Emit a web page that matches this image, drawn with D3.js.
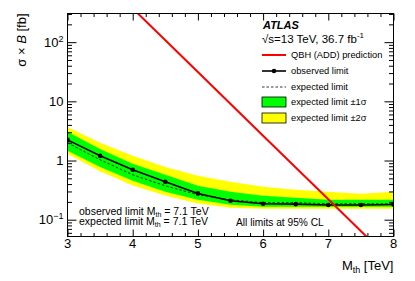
<!DOCTYPE html>
<html>
<head>
<meta charset="utf-8">
<script src="https://cdn.jsdelivr.net/npm/d3@7"></script>
<style>
  body { margin: 0; background: #fff; }
  text { font-family: "Liberation Sans", Arial, Helvetica, sans-serif; fill: #000; }
</style>
</head>
<body>
<div id="chart"></div>
<script>
// threshold mass points [TeV]
var masses = [3, 3.5, 4, 4.5, 5, 5.5, 6, 6.5, 7, 7.5, 8];
// cross-section x B limits [fb]
var observed = [2.23, 1.20, 0.70, 0.437, 0.278, 0.209, 0.186, 0.183, 0.177, 0.177, 0.181];
var expected = [1.99, 1.03, 0.574, 0.374, 0.264, 0.217, 0.194, 0.194, 0.186, 0.186, 0.186];
var exp1Up = [3.05, 1.57, 0.88, 0.574, 0.374, 0.296, 0.254, 0.235, 0.217, 0.217, 0.217];
var exp1Dn = [1.46, 0.78, 0.455, 0.296, 0.217, 0.179, 0.166, 0.166, 0.166, 0.166, 0.166];
var exp2Up = [3.70, 1.99, 1.20, 0.78, 0.552, 0.437, 0.36, 0.321, 0.296, 0.274, 0.296];
var exp2Dn = [1.30, 0.66, 0.38, 0.256, 0.188, 0.159, 0.153, 0.153, 0.153, 0.153, 0.153];
// QBH (ADD) prediction
var qbhMasses = [4, 5, 6, 7, 8];
var qbhXsec = [372, 31.3, 2.63, 0.221, 0.0186];

var xTicks = [3, 4, 5, 6, 7, 8];
var yTicks = [0.1, 1, 10, 100];
var yTickLabels = [["10", "\u22121"], ["1", ""], ["10", ""], ["10", "2"]];

var legendLabels = ["QBH (ADD) prediction", "observed limit", "expected limit",
  "expected limit \u00b11\u03c3", "expected limit \u00b12\u03c3"];

var plot = {
  width: 415,
  height: 281,
  top: 13.5,
  right: 21.5,
  bottom: 44.5,
  left: 67.5,
}

var svg = d3.select("#chart")
  .append("svg")
  .attr("width", plot.width)
  .attr("height", plot.height);

var x = d3.scaleLinear()
  .domain([3, 8])
  .range([plot.left, plot.width - plot.right]);

var y = d3.scaleLog()
  .domain([0.052, 305])
  .range([plot.height - plot.bottom, plot.top]);

svg.append("clipPath")
  .attr("id", "clip")
  .append("rect")
  .attr("x", plot.left)
  .attr("y", plot.top)
  .attr("width", plot.width - plot.left - plot.right)
  .attr("height", plot.height - plot.top - plot.bottom);

var rows = masses.map((m, i) => ({
  m: m, obs: observed[i], exp: expected[i],
  u1: exp1Up[i], d1: exp1Dn[i], u2: exp2Up[i], d2: exp2Dn[i]
}));

var g = svg.append("g").attr("clip-path", "url(#clip)");

/* bands */
g.append("path")
  .datum(rows)
  .attr("d", d3.area().x((d) => x(d.m)).y0((d) => y(d.d2)).y1((d) => y(d.u2)))
  .style("fill", "#ffff00");
g.append("path")
  .datum(rows)
  .attr("d", d3.area().x((d) => x(d.m)).y0((d) => y(d.d1)).y1((d) => y(d.u1)))
  .style("fill", "#00ff00");

/* expected */
g.append("path")
  .datum(rows)
  .attr("d", d3.line().x((d) => x(d.m)).y((d) => y(d.exp)))
  .style("fill", "none")
  .style("stroke", "#000")
  .style("stroke-width", 0.8)
  .style("stroke-dasharray", "2.5,2");

/* observed */
g.append("path")
  .datum(rows)
  .attr("d", d3.line().x((d) => x(d.m)).y((d) => y(d.obs)))
  .style("fill", "none")
  .style("stroke", "#000")
  .style("stroke-width", 1.6);
g.selectAll("circle.obs")
  .data(rows)
  .enter()
  .append("circle")
  .attr("cx", (d) => x(d.m))
  .attr("cy", (d) => y(d.obs))
  .attr("r", 2.3)
  .style("fill", "#000");

/* QBH prediction */
g.append("path")
  .datum(qbhMasses.map((m, i) => [m, qbhXsec[i]]))
  .attr("d", d3.line().x((d) => x(d[0])).y((d) => y(d[1])))
  .style("fill", "none")
  .style("stroke", "#ff0000")
  .style("stroke-width", 2);

/* axes: ticks on all four sides, pointing inward */
var xMinor = d3.range(3, 8.001, 0.2).filter((v) => Math.abs(v - Math.round(v)) > 1e-6);
var yMinor = [];
[0.01, 0.1, 1, 10, 100].forEach((dec) => {
  for (let k = 2; k <= 9; k++) {
    let v = dec * k;
    if (v > 0.052 && v < 305) yMinor.push(v);
  }
});

function tickAxis(axis, values, size, transform) {
  svg.append("g")
    .attr("transform", transform)
    .call(axis.tickValues(values).tickSize(size).tickFormat(""))
    .call((s) => s.select(".domain").remove())
    .selectAll("line")
    .style("stroke", "#000");
}
var bottomY = plot.height - plot.bottom;
var rightX = plot.width - plot.right;
tickAxis(d3.axisBottom(x), xTicks, -7, `translate(0, ${bottomY})`);
tickAxis(d3.axisBottom(x), xMinor, -3.5, `translate(0, ${bottomY})`);
tickAxis(d3.axisTop(x), xTicks, -7, `translate(0, ${plot.top})`);
tickAxis(d3.axisTop(x), xMinor, -3.5, `translate(0, ${plot.top})`);
tickAxis(d3.axisLeft(y), yTicks, -9, `translate(${plot.left}, 0)`);
tickAxis(d3.axisLeft(y), yMinor, -4.5, `translate(${plot.left}, 0)`);
tickAxis(d3.axisRight(y), yTicks, -9, `translate(${rightX}, 0)`);
tickAxis(d3.axisRight(y), yMinor, -4.5, `translate(${rightX}, 0)`);

svg.append("rect")
  .attr("x", plot.left)
  .attr("y", plot.top)
  .attr("width", rightX - plot.left)
  .attr("height", bottomY - plot.top)
  .style("fill", "none")
  .style("stroke", "#000")
  .style("stroke-width", 1);

/* tick labels */
svg.append("g")
  .selectAll("text")
  .data(xTicks)
  .enter()
  .append("text")
  .attr("x", (d) => x(d))
  .attr("y", bottomY + 11)
  .attr("text-anchor", "middle")
  .style("font-size", "13px")
  .text((d) => d);

var yl = svg.append("g")
  .selectAll("text")
  .data(yTicks)
  .enter()
  .append("text")
  .attr("x", plot.left - 4)
  .attr("y", (d) => y(d) + 4.6)
  .attr("text-anchor", "end")
  .style("font-size", "13px");
yl.append("tspan").text((d, i) => yTickLabels[i][0]);
yl.append("tspan")
  .attr("dy", -5)
  .style("font-size", "9px")
  .text((d, i) => yTickLabels[i][1]);

/* axis titles */
var xt = svg.append("text")
  .attr("x", rightX)
  .attr("y", 270)
  .attr("text-anchor", "end")
  .style("font-size", "13px");
xt.append("tspan").text("M");
xt.append("tspan").attr("dy", 3).style("font-size", "9px").text("th");
xt.append("tspan").attr("dy", -3).text(" [TeV]");

var yt = svg.append("text")
  .attr("transform", `translate(26, ${plot.top}) rotate(-90)`)
  .attr("text-anchor", "end")
  .style("font-size", "13px");
yt.append("tspan").text("\u03c3 \u00d7 ");
yt.append("tspan").style("font-style", "italic").text("B");
yt.append("tspan").text(" [fb]");

/* ATLAS label */
svg.append("text")
  .attr("x", 263)
  .attr("y", 29)
  .style("font-size", "11px")
  .style("font-weight", "bold")
  .style("font-style", "italic")
  .text("ATLAS");
var en = svg.append("text")
  .attr("x", 262)
  .attr("y", 43)
  .style("font-size", "11.5px");
en.append("tspan").text("\u221as=13 TeV, 36.7 fb");
en.append("tspan").attr("dy", -5).style("font-size", "8px").text("-1");

/* legend */
var legY = [55, 71, 87, 102, 118];
var leg = svg.append("g");
leg.append("line")
  .attr("x1", 262).attr("x2", 286).attr("y1", legY[0]).attr("y2", legY[0])
  .style("stroke", "#ff0000").style("stroke-width", 2);
leg.append("line")
  .attr("x1", 262).attr("x2", 286).attr("y1", legY[1]).attr("y2", legY[1])
  .style("stroke", "#000").style("stroke-width", 1.6);
leg.append("circle")
  .attr("cx", 274).attr("cy", legY[1]).attr("r", 2.3).style("fill", "#000");
leg.append("line")
  .attr("x1", 262).attr("x2", 286).attr("y1", legY[2]).attr("y2", legY[2])
  .style("stroke", "#000").style("stroke-width", 0.8).style("stroke-dasharray", "2.5,2");
leg.append("rect")
  .attr("x", 262).attr("y", legY[3] - 5).attr("width", 24).attr("height", 10)
  .style("fill", "#00ff00").style("stroke", "#000").style("stroke-width", 0.8);
leg.append("rect")
  .attr("x", 262).attr("y", legY[4] - 5).attr("width", 24).attr("height", 10)
  .style("fill", "#ffff00").style("stroke", "#000").style("stroke-width", 0.8);
leg.selectAll("text.lab")
  .data(legendLabels)
  .enter()
  .append("text")
  .attr("x", 291)
  .attr("y", (d, i) => legY[i] + 3.3)
  .style("font-size", "9.3px")
  .text((d) => d);

/* limit annotations */
var notes = [["observed limit M", "th", " = 7.1 TeV", 214.5], ["expected limit M", "th", " = 7.1 TeV", 225]];
notes.forEach((n) => {
  let t = svg.append("text")
    .attr("x", 79)
    .attr("y", n[3])
    .style("font-size", "10.5px");
  t.append("tspan").text(n[0]);
  t.append("tspan").attr("dy", 2).style("font-size", "7px").text(n[1]);
  t.append("tspan").attr("dy", -2).text(n[2]);
});

svg.append("text")
  .attr("x", 236)
  .attr("y", 225.5)
  .style("font-size", "10.2px")
  .text("All limits at 95% CL");
</script>
</body>
</html>
